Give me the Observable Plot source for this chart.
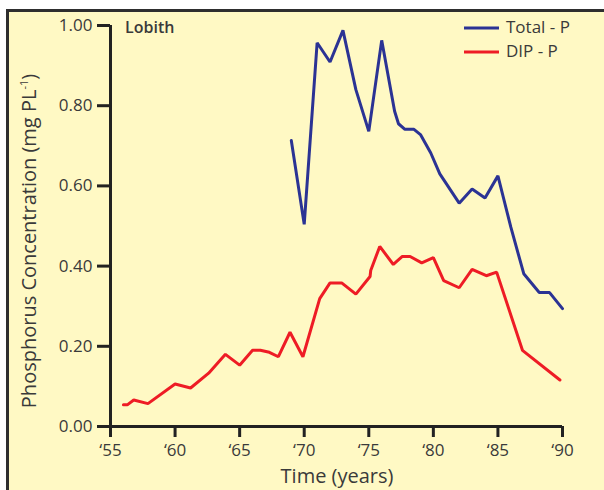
<!DOCTYPE html>
<html>
<head>
<meta charset="utf-8">
<script src="https://cdn.jsdelivr.net/npm/d3@7"></script>
<script src="https://cdn.jsdelivr.net/npm/@observablehq/plot@0.6"></script>
<style>
  html, body { margin: 0; padding: 0; background: #ffffff; }
  #wrap { position: relative; width: 604px; height: 490px; overflow: hidden; }
  #frame { position: absolute; left: 6px; top: 9px; width: 620px; height: 500px;
           border-left: 3px solid #2e2e2e; border-top: 3px solid #2e2e2e; background: #fff9c4; }
  #chart { position: absolute; left: 0; top: 0; }
</style>
</head>
<body>
<div id="wrap"><div id="frame"></div><div id="chart"></div></div>
<script>
// Tick values
const xTicks = [55, 60, 65, 70, 75, 80, 85, 90];
const yTicks = [0, 0.2, 0.4, 0.6, 0.8, 1.0];

// Total - P (year '19xx, mg P/L)
const totalYears = [69, 70, 71, 72, 73, 74, 75, 76, 77, 77.3, 77.8, 78.5, 79, 79.8, 80.5, 82, 83, 84, 85, 86, 87, 88.2, 89, 90];
const totalValues = [0.713, 0.504, 0.957, 0.909, 0.988, 0.840, 0.736, 0.963, 0.786, 0.755, 0.741, 0.741, 0.728, 0.682, 0.630, 0.557, 0.592, 0.570, 0.625, 0.497, 0.381, 0.334, 0.334, 0.294];

// DIP - P
const dipYears = [56, 56.3, 56.8, 57.9, 60, 61.2, 62.6, 63.9, 65, 66, 66.6, 67.3, 68, 68.9, 69.9, 71.2, 72, 72.9, 74, 75.1, 75.15, 75.85, 76.9, 77.6, 78.2, 79.1, 80, 80.8, 82, 83, 84.1, 84.9, 86.9, 89.8];
const dipValues = [0.054, 0.054, 0.066, 0.057, 0.106, 0.096, 0.133, 0.180, 0.153, 0.190, 0.190, 0.185, 0.174, 0.235, 0.174, 0.319, 0.358, 0.358, 0.330, 0.374, 0.389, 0.449, 0.404, 0.424, 0.424, 0.408, 0.421, 0.364, 0.346, 0.392, 0.376, 0.385, 0.190, 0.116];

const seriesNames = ["Total - P", "DIP - P"];
const seriesColors = ["#2b3394", "#ee1c25"];

const total = totalYears.map((x, i) => ({x, y: totalValues[i]}));
const dip = dipYears.map((x, i) => ({x, y: dipValues[i]}));

const FONT = "'Open Sans', 'Noto Sans', sans-serif";
const TEXT = "#3a3a3a";
const AXIS = "#222222";

const chart = Plot.plot({
  width: 604,
  height: 490,
  marginLeft: 110,
  marginRight: 42,
  marginTop: 25,
  marginBottom: 64,
  style: {background: "transparent", fontFamily: FONT, fontSize: "17px", color: TEXT, overflow: "visible"},
  x: {domain: [55, 90]},
  y: {domain: [0, 1]},
  marks: [
    Plot.axisX({ticks: xTicks, tickFormat: d => "\u2018" + d, tickSize: 11, tickPadding: 6, strokeWidth: 3, stroke: AXIS, fill: TEXT, label: null, fontSize: 17}),
    Plot.axisY({ticks: yTicks, tickFormat: d3.format(".2f"), tickSize: 13, tickPadding: 5, strokeWidth: 3, stroke: AXIS, fill: TEXT, label: null, fontSize: 17}),
    Plot.ruleY([0], {stroke: AXIS, strokeWidth: 3}),
    Plot.ruleX([55], {y1: 0, y2: 1, stroke: AXIS, strokeWidth: 3}),
    Plot.line(dip, {x: "x", y: "y", stroke: seriesColors[1], strokeWidth: 3, strokeLinejoin: "miter"}),
    Plot.line(total, {x: "x", y: "y", stroke: seriesColors[0], strokeWidth: 3, strokeLinejoin: "miter"})
  ]
});
document.getElementById("chart").appendChild(chart);

const svg = d3.select(chart);
// Y axis title with superscript
const yt = svg.append("text")
  .attr("transform", "translate(36,241) rotate(-90)")
  .attr("text-anchor", "middle")
  .attr("font-family", FONT).attr("font-size", 20).attr("fill", TEXT);
yt.append("tspan").text("Phosphorus Concentration (mg PL");
yt.append("tspan").attr("font-size", 11).attr("dy", -8).text("-1");
yt.append("tspan").attr("dy", 8).text(")");

// X axis title
svg.append("text")
  .attr("x", 337).attr("y", 483)
  .attr("text-anchor", "middle")
  .attr("font-family", FONT).attr("font-size", 20).attr("fill", TEXT)
  .text("Time (years)");

// Site label
svg.append("text")
  .attr("x", 125).attr("y", 27).attr("dy", "0.35em")
  .attr("text-anchor", "start")
  .attr("font-family", FONT).attr("font-size", 16).attr("font-weight", 600).attr("fill", TEXT)
  .text("Lobith");

// Legend
seriesNames.forEach((name, i) => {
  const cy = 28 + i * 24;
  svg.append("line").attr("x1", 464).attr("x2", 499).attr("y1", cy).attr("y2", cy)
    .attr("stroke", seriesColors[i]).attr("stroke-width", 3);
  svg.append("text").attr("x", 506).attr("y", cy - 1).attr("dy", "0.35em")
    .attr("text-anchor", "start")
    .attr("font-family", FONT).attr("font-size", 17).attr("fill", TEXT)
    .text(name);
});
</script>
</body>
</html>
